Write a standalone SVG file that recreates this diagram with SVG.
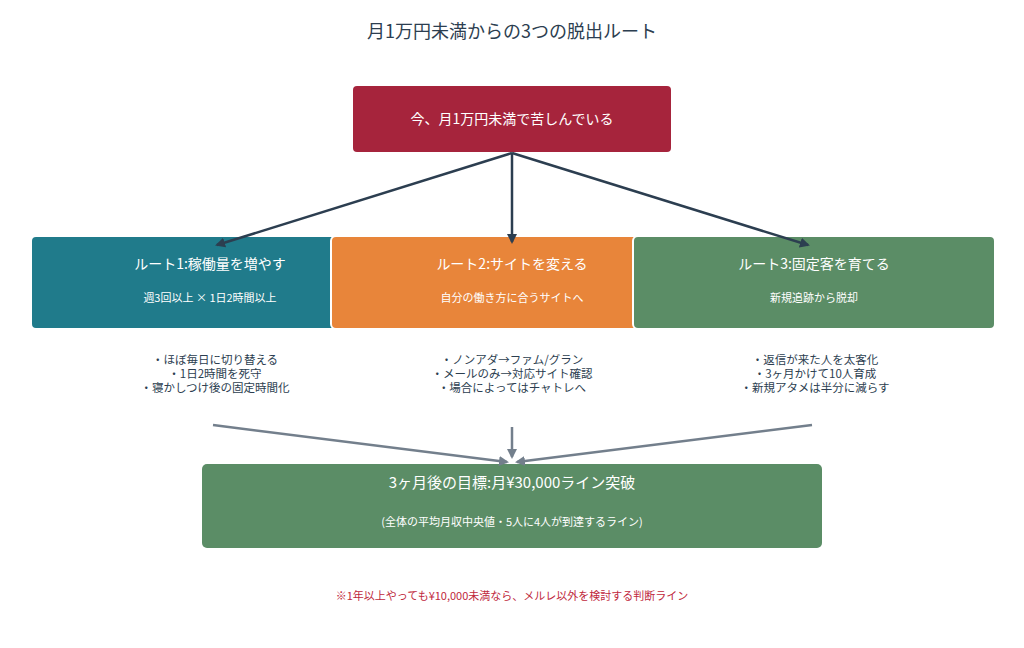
<svg xmlns="http://www.w3.org/2000/svg" width="1024" height="648" viewBox="0 0 1024 648">
<style>
text{font-family:"Noto Sans CJK JP","Noto Sans",sans-serif;text-anchor:middle}
.w{fill:#fff}.t{font-size:14px}.s{font-size:11px}.b{font-size:11.5px;fill:#2c3e50}
.dk{stroke:#2c3e50;stroke-width:2.5;fill:none}.gr{stroke:#737f8c;stroke-width:2.5;fill:none}
</style>
<defs>
<marker id="a1" viewBox="0 0 10 10" refX="8" refY="5" markerWidth="4" markerHeight="4" orient="auto"><path d="M0,0L10,5L0,10z" fill="#2c3e50"/></marker>
<marker id="a2" viewBox="0 0 10 10" refX="8" refY="5" markerWidth="4" markerHeight="4" orient="auto"><path d="M0,0L10,5L0,10z" fill="#737f8c"/></marker>
</defs>
<rect width="1024" height="648" fill="#fff"/>
<text x="512" y="38" font-size="18" fill="#2c3e50">月1万円未満からの3つの脱出ルート</text>
<g id="top"><rect x="353" y="86" width="318" height="66" rx="4" fill="#a6243c"/><text class="w t" x="512" y="124">今、月1万円未満で苦しんでいる</text></g>
<g id="r1"><rect x="31" y="236" width="308" height="93" rx="5" fill="#207b8b" stroke="#fff" stroke-width="2"/><text class="w t" x="210" y="269">ルート1:稼働量を増やす</text><text class="w s" x="210" y="302">週3回以上 × 1日2時間以上</text></g>
<g id="r2"><rect x="331" y="236" width="310" height="93" rx="5" fill="#e8853a" stroke="#fff" stroke-width="2"/><text class="w t" x="512" y="269">ルート2:サイトを変える</text><text class="w s" x="512" y="302">自分の働き方に合うサイトへ</text></g>
<g id="r3"><rect x="633" y="236" width="362" height="93" rx="5" fill="#5b8d66" stroke="#fff" stroke-width="2"/><text class="w t" x="814" y="269">ルート3:固定客を育てる</text><text class="w s" x="814" y="302">新規追跡から脱却</text></g>
<g id="n1"><text class="b" x="215" y="364">・ほぼ毎日に切り替える</text><text class="b" x="215" y="378">・1日2時間を死守</text><text class="b" x="215" y="392">・寝かしつけ後の固定時間化</text></g>
<g id="n2"><text class="b" x="512" y="364">・ノンアダ→ファム/グラン</text><text class="b" x="512" y="378">・メールのみ→対応サイト確認</text><text class="b" x="512" y="392">・場合によってはチャトレへ</text></g>
<g id="n3"><text class="b" x="815" y="364">・返信が来た人を太客化</text><text class="b" x="815" y="378">・3ヶ月かけて10人育成</text><text class="b" x="815" y="392">・新規アタメは半分に減らす</text></g>
<g id="goal"><rect x="202" y="464" width="620" height="84" rx="5" fill="#5b8d66"/><text class="w" font-size="15" x="512" y="488">3ヶ月後の目標:月¥30,000ライン突破</text><text class="w s" x="512" y="526">(全体の平均月収中央値・5人に4人が到達するライン)</text></g>
<text x="512" y="600" font-size="11" fill="#c0283c">※1年以上やっても¥10,000未満なら、メルレ以外を検討する判断ライン</text>
<g id="connectors">
<path class="dk" d="M512,153L217,245" marker-end="url(#a1)"/>
<path class="dk" d="M512,153L512,242" marker-end="url(#a1)"/>
<path class="dk" d="M512,153L808,245" marker-end="url(#a1)"/>
<path class="gr" d="M213,425L507,462" marker-end="url(#a2)"/>
<path class="gr" d="M512,427L512,457" marker-end="url(#a2)"/>
<path class="gr" d="M812,425L517,462" marker-end="url(#a2)"/>
</g>
</svg>
